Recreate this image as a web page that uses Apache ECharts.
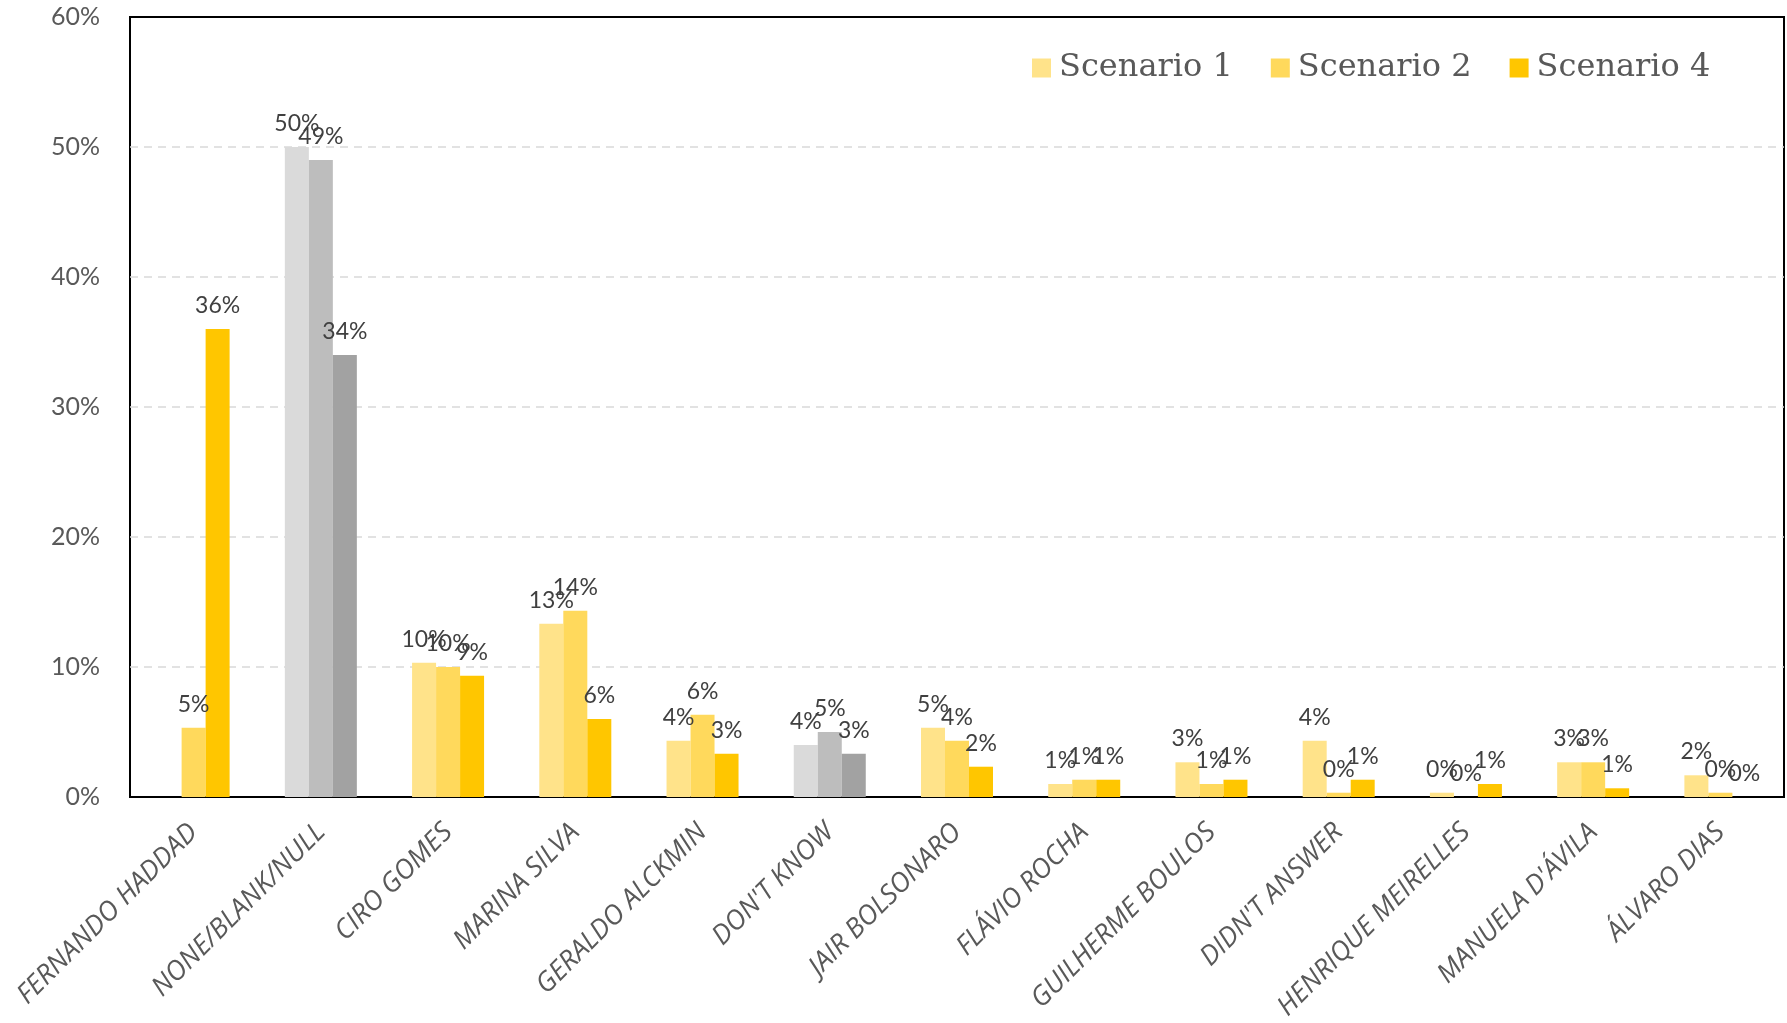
<!DOCTYPE html>
<html>
<head>
<meta charset="utf-8">
<script src="https://cdn.jsdelivr.net/npm/echarts@6/dist/echarts.min.js"></script>
<style>
  html, body { margin: 0; padding: 0; background: #fff; }
  #main { width: 1787px; height: 1023px; }
</style>
</head>
<body>
<div id="main"></div>
<script>
// categories
const categories = ['FERNANDO HADDAD', 'NONE/BLANK/NULL', 'CIRO GOMES', 'MARINA SILVA', 'GERALDO ALCKMIN',
  "DON'T KNOW", 'JAIR BOLSONARO', 'FLÁVIO ROCHA', 'GUILHERME BOULOS', "DIDN'T ANSWER",
  'HENRIQUE MEIRELLES', "MANUELA D'ÁVILA", 'ÁLVARO DIAS'];
const seriesNames = ['Scenario 1', 'Scenario 2', 'Scenario 4'];
// values in %
const scenario1 = [null, 50, 10.33, 13.33, 4.33, 4, 5.33, 1, 2.67, 4.33, 0.33, 2.67, 1.67];
const scenario2 = [5.33, 49, 10, 14.33, 6.33, 5, 4.33, 1.33, 1, 0.33, 0, 2.67, 0.33];
const scenario4 = [36, 34, 9.33, 6, 3.33, 3.33, 2.33, 1.33, 1.33, 1.33, 1, 0.67, 0];
const yTicks = [0, 10, 20, 30, 40, 50, 60];

const yellows = ['#FFE38A', '#FFD95C', '#FFC600'];
const greys = ['#DADADA', '#BDBDBD', '#A2A2A2'];
const greyCats = [1, 5]; // NONE/BLANK/NULL and DON'T KNOW are grey

const chart = echarts.init(document.getElementById('main'));

function makeSeries(name, values, idx) {
  return {
    name: name,
    type: 'bar',
    barWidth: 24,
    barGap: '0%',
    itemStyle: { color: yellows[idx] },
    label: {
      show: true,
      position: 'top',
      distance: 12,
      color: '#404040',
      fontSize: 23,
      fontFamily: 'Lato',
      formatter: function (p) { return Math.round(p.value) + '%'; }
    },
    data: values.map(function (v, i) {
      if (v === null) return '-';
      if (greyCats.indexOf(i) >= 0) return { value: v, itemStyle: { color: greys[idx] } };
      return v;
    })
  };
}

const option = {
  animation: false,
  backgroundColor: '#fff',
  grid: {
    left: 130, right: 3, top: 17, bottom: 226,
    outerBoundsMode: 'none',
    show: true, borderColor: '#000', borderWidth: 2
  },
  legend: {
    data: seriesNames,
    left: 1027,
    top: 47,
    itemWidth: 19,
    itemHeight: 19,
    itemGap: 38,
    icon: 'rect',
    textStyle: { fontFamily: 'DejaVu Serif', fontSize: 32, color: '#595959', padding: [0, 0, 0, 3] }
  },
  xAxis: {
    type: 'category',
    data: categories,
    axisLine: { show: true, lineStyle: { color: '#000', width: 2 } },
    axisTick: { show: false },
    axisLabel: {
      rotate: 45,
      interval: 0,
      margin: 31,
      color: '#595959',
      fontFamily: 'Open Sans',
      fontStyle: 'italic',
      fontSize: 27
    }
  },
  yAxis: {
    type: 'value',
    min: yTicks[0],
    max: yTicks[yTicks.length - 1],
    interval: 10,
    axisLine: { show: false },
    axisTick: { show: false },
    axisLabel: {
      margin: 30,
      color: '#595959',
      fontFamily: 'Lato',
      fontSize: 25,
      formatter: '{value}%'
    },
    splitLine: { showMinLine: false, showMaxLine: false, lineStyle: { color: '#D9D9D9', type: [8, 6], width: 1.5 } }
  },
  series: [
    makeSeries(seriesNames[0], scenario1, 0),
    makeSeries(seriesNames[1], scenario2, 1),
    makeSeries(seriesNames[2], scenario4, 2)
  ]
};

chart.setOption(option);
</script>
</body>
</html>
